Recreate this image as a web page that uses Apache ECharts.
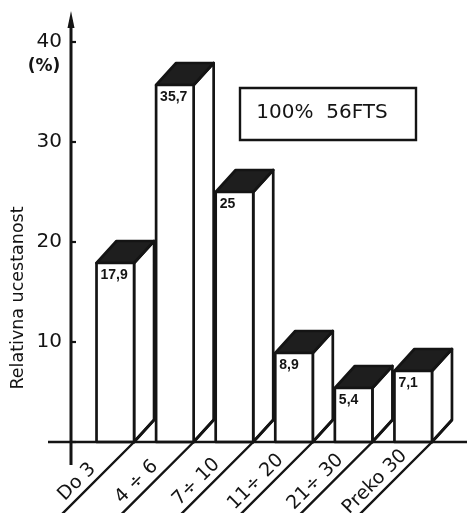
<!DOCTYPE html>
<html>
<head>
<meta charset="utf-8">
<script src="https://cdn.jsdelivr.net/npm/echarts@6/dist/echarts.min.js"></script>
<style>
html,body{margin:0;padding:0;background:#fff;}
#chart{width:467px;height:513px;}
</style>
</head>
<body>
<div id="chart"></div>
<script>
const categories = ['Do 3', '4 ÷ 6', '7÷ 10', '11÷ 20', '21÷ 30', 'Preko 30'];
const values = [17.9, 35.7, 25, 8.9, 5.4, 7.1];
const yAxisName = 'Relativna ucestanost';
const unitLabel = '(%)';
const noteText = '100%  56FTS';

const INK = '#141414';
const chart = echarts.init(document.getElementById('chart'), null, {renderer: 'canvas'});

function renderBar(params, api) {
  const i = api.value(0), v = api.value(1);
  const base = api.coord([i, 0]);
  const top = api.coord([i, v]);
  const bw = api.size([1, 0])[0];
  const w = bw * 0.63;
  const xl = base[0] - w / 2, xr = base[0] + w / 2;
  const y0 = base[1], yt = top[1];
  const dx = 20, dy = -22;
  const stroke = {stroke: INK, lineWidth: 2.7, lineJoin: 'round'};
  return {
    type: 'group',
    children: [
      {type: 'polyline', shape: {points: [[xr - 78, y0 + 78], [xr, y0], [xr + dx, y0 + dy]]}, style: {stroke: INK, lineWidth: 2.4, fill: null}},
      {type: 'polygon', shape: {points: [[xr, yt], [xr + dx, yt + dy], [xr + dx, y0 + dy], [xr, y0]]}, style: Object.assign({fill: '#fff'}, stroke)},
      {type: 'polygon', shape: {points: [[xl, yt], [xr, yt], [xr + dx, yt + dy], [xl + dx, yt + dy]]}, style: Object.assign({fill: '#1e1e1e'}, stroke)},
      {type: 'rect', shape: {x: xl, y: yt, width: w, height: y0 - yt}, style: Object.assign({fill: '#fff'}, stroke)},
      {type: 'text', x: xl + 4, y: yt + 5, style: {text: String(v).replace('.', ','), fill: INK, font: 'bold 14px "Liberation Sans", sans-serif', align: 'left', verticalAlign: 'top'}},
      {type: 'line', shape: {x1: xr, y1: y0 - 0.5, x2: xr + dx, y2: y0 + dy - 0.5}, style: {stroke: INK, lineWidth: 2.4}},
      {type: 'text', x: xr - 57, y: y0 + 40, rotation: Math.PI / 4, style: {text: categories[i], fill: INK, font: '19px "DejaVu Sans", sans-serif', align: 'center', verticalAlign: 'middle'}}
    ]
  };
}

const option = {
  backgroundColor: '#ffffff',
  animation: false,
  grid: {left: 85.5, right: 24, top: 42, bottom: 71, containLabel: false},
  xAxis: {
    type: 'category',
    data: categories,
    axisLine: {show: false},
    axisTick: {show: false},
    axisLabel: {show: false},
    splitLine: {show: false}
  },
  yAxis: {
    type: 'value',
    min: 0,
    max: 40,
    interval: 10,
    offset: 14.5,
    axisLine: {show: false},
    axisTick: {show: true, inside: true, length: 5, lineStyle: {color: INK, width: 2.2}},
    axisLabel: {
      margin: 9,
      color: INK,
      fontSize: 20,
      fontFamily: '"DejaVu Sans", sans-serif',
      formatter: function (val) { return val === 0 ? '' : String(val); }
    },
    splitLine: {show: false}
  },
  graphic: [
    {type: 'line', shape: {x1: 48, y1: 442, x2: 467, y2: 442}, style: {stroke: INK, lineWidth: 2.7}, z: 10},
    {type: 'line', shape: {x1: 71, y1: 465, x2: 71, y2: 20}, style: {stroke: INK, lineWidth: 3}, z: 10},
    {type: 'polygon', shape: {points: [[71, 11], [67.5, 28], [74.5, 28]]}, style: {fill: INK}, z: 10},
    {type: 'text', x: 44, y: 67, style: {text: unitLabel, fill: INK, font: 'bold 17px "DejaVu Sans", sans-serif', align: 'center', verticalAlign: 'middle'}, z: 10},
    {type: 'text', x: 18, y: 298, rotation: Math.PI / 2, style: {text: yAxisName, fill: INK, font: '17.5px "DejaVu Sans", sans-serif', align: 'center', verticalAlign: 'middle'}, z: 10},
    {type: 'rect', shape: {x: 240, y: 88, width: 176, height: 52}, style: {fill: '#fff', stroke: INK, lineWidth: 2.4}, z: 10},
    {type: 'text', x: 322, y: 113, style: {text: noteText, fill: INK, font: '20px "DejaVu Sans", sans-serif', align: 'center', verticalAlign: 'middle'}, z: 11}
  ],
  series: [{
    type: 'custom',
    clip: false,
    renderItem: renderBar,
    encode: {x: 0, y: 1},
    data: values.map(function (v, i) { return [i, v]; })
  }]
};
chart.setOption(option);
</script>
</body>
</html>
